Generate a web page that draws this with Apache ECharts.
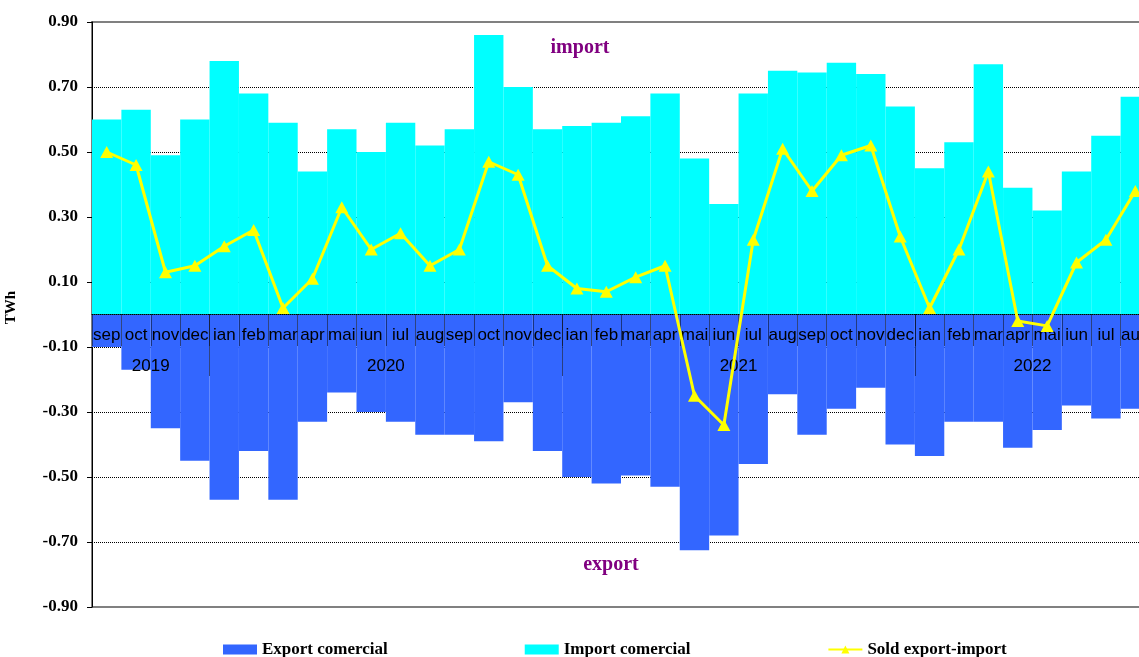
<!DOCTYPE html>
<html>
<head>
<meta charset="utf-8" />
<script src="https://cdn.jsdelivr.net/npm/echarts@6/dist/echarts.min.js"></script>
<style>
  html,
  body {
    margin: 0;
    padding: 0;
    background: #fff;
  }
  #chart {
    width: 1139px;
    height: 657px;
  }
</style>
</head>
<body>
<div id="chart"></div>
<script>
// luni (sep 2019 - aug 2022)
const months = [
  "sep", "oct", "nov", "dec",
  "ian", "feb", "mar", "apr", "mai", "iun", "iul", "aug", "sep", "oct", "nov", "dec",
  "ian", "feb", "mar", "apr", "mai", "iun", "iul", "aug", "sep", "oct", "nov", "dec",
  "ian", "feb", "mar", "apr", "mai", "iun", "iul", "aug",
];
const years = ["2019", "2020", "2021", "2022"];
const yearSpans = [4, 12, 12, 8];

// TWh
const exportData = [
  -0.10, -0.17, -0.35, -0.45,
  -0.57, -0.42, -0.57, -0.33, -0.24, -0.30, -0.33, -0.37, -0.37, -0.39, -0.27, -0.42,
  -0.50, -0.52, -0.495, -0.53, -0.725, -0.68, -0.46, -0.245, -0.37, -0.29, -0.225, -0.40,
  -0.435, -0.33, -0.33, -0.41, -0.355, -0.28, -0.32, -0.29,
];
const importData = [
  0.60, 0.63, 0.49, 0.60,
  0.78, 0.68, 0.59, 0.44, 0.57, 0.50, 0.59, 0.52, 0.57, 0.86, 0.70, 0.57,
  0.58, 0.59, 0.61, 0.68, 0.48, 0.34, 0.68, 0.75, 0.745, 0.775, 0.74, 0.64,
  0.45, 0.53, 0.77, 0.39, 0.32, 0.44, 0.55, 0.67,
];
const soldData = [
  0.50, 0.46, 0.13, 0.15,
  0.21, 0.26, 0.02, 0.11, 0.33, 0.20, 0.25, 0.15, 0.20, 0.47, 0.43, 0.15,
  0.08, 0.07, 0.115, 0.15, -0.25, -0.34, 0.23, 0.51, 0.38, 0.49, 0.52, 0.24,
  0.02, 0.20, 0.44, -0.02, -0.035, 0.16, 0.23, 0.38,
];

const yMin = -0.9;
const yMax = 0.9;

// axa anilor: cate doua pozitii pe luna, eticheta la mijlocul fiecarui an
const yearSlots = new Array(months.length * 2 + 1).fill("");
const yearBounds = [];
let cursor = 0;
years.forEach((y, i) => {
  yearSlots[cursor * 2 + yearSpans[i]] = y;
  cursor += yearSpans[i];
  if (i < years.length - 1) yearBounds.push(cursor * 2);
});

const gridTop = 22;
const gridHeight = 585;
// cu onZero, etichetele raman jos pe grid -> le aducem sub linia de zero
const zeroShift = (gridHeight * (0 - yMin)) / (yMax - yMin);

const serif = "'Liberation Serif', 'Times New Roman', serif";
const sans = "'Liberation Sans', Arial, sans-serif";

let option = {
  animation: false,
  backgroundColor: "#fff",
  grid: {
    left: 92,
    top: gridTop,
    width: 1058,
    height: gridHeight,
    show: true,
    borderColor: "#808080",
    borderWidth: 2,
    outerBoundsMode: "none",
  },
  legend: {
    left: 223,
    top: 641,
    padding: 0,
    itemGap: 137,
    itemWidth: 34,
    itemHeight: 10,
    textStyle: { fontFamily: serif, fontWeight: "bold", fontSize: 17, color: "#000" },
    data: [
      { name: "Export comercial", icon: "rect" },
      { name: "Import comercial", icon: "rect" },
      { name: "Sold export-import" },
    ],
  },
  xAxis: [
    {
      type: "category",
      data: months,
      zlevel: 2,
      axisLine: {
        onZero: true,
        onZeroAxisIndex: 0,
        lineStyle: { color: "#000", type: "dotted", width: 1 },
      },
      axisTick: {
        show: true,
        interval: 0,
        length: 31,
        lineStyle: { color: "#000", type: "dotted", width: 1 },
      },
      axisLabel: {
        interval: 0,
        margin: 12 - zeroShift,
        hideOverlap: false,
        fontFamily: sans,
        fontSize: 17,
        color: "#000",
      },
      splitLine: { show: false },
    },
    {
      type: "category",
      position: "bottom",
      boundaryGap: false,
      data: yearSlots,
      zlevel: 2,
      axisLine: { show: false, onZero: true, onZeroAxisIndex: 0 },
      axisTick: {
        show: true,
        length: 62,
        interval: (index) => yearBounds.includes(index),
        lineStyle: { color: "#000", type: "dotted", width: 1 },
      },
      axisLabel: {
        interval: 0,
        margin: 43 - zeroShift,
        hideOverlap: false,
        fontFamily: sans,
        fontSize: 17,
        color: "#000",
      },
      splitLine: { show: false },
    },
  ],
  yAxis: {
    type: "value",
    min: yMin,
    max: yMax,
    interval: 0.2,
    zlevel: 0,
    name: "TWh",
    nameLocation: "middle",
    nameGap: 73,
    nameTextStyle: {
      fontFamily: serif,
      fontWeight: "bold",
      fontSize: 15,
      color: "#000",
      padding: [0, 0, 0, 14],
    },
    axisLine: { show: true, lineStyle: { color: "#000", width: 1 } },
    axisTick: { show: true, length: 5, lineStyle: { color: "#000" } },
    axisLabel: {
      margin: 14,
      showMinLabel: true,
      showMaxLabel: true,
      fontFamily: serif,
      fontWeight: "bold",
      fontSize: 17,
      color: "#000",
      formatter: (v) => v.toFixed(2),
    },
    splitLine: {
      show: true,
      showMinLine: false,
      showMaxLine: false,
      lineStyle: { color: "#000", type: "dotted", width: 1 },
    },
  },
  graphic: [
    {
      type: "text",
      x: 580,
      y: 48,
      z: 20,
      style: {
        text: "import",
        fill: "#800080",
        font: "bold 20px " + serif,
        textAlign: "center",
        textVerticalAlign: "middle",
      },
    },
    {
      type: "text",
      x: 611,
      y: 565,
      z: 20,
      style: {
        text: "export",
        fill: "#800080",
        font: "bold 20px " + serif,
        textAlign: "center",
        textVerticalAlign: "middle",
      },
    },
  ],
  series: [
    {
      name: "Export comercial",
      type: "bar",
      stack: "total",
      xAxisIndex: 0,
      zlevel: 1,
      barCategoryGap: "0%",
      itemStyle: { color: "#3366FF", opacity: 1, borderWidth: 0 },
      emphasis: { disabled: true },
      data: exportData,
    },
    {
      name: "Import comercial",
      type: "bar",
      stack: "total",
      xAxisIndex: 0,
      zlevel: 1,
      barCategoryGap: "0%",
      itemStyle: { color: "#00FFFF", opacity: 1, borderWidth: 0 },
      emphasis: { disabled: true },
      data: importData,
    },
    {
      name: "Sold export-import",
      type: "line",
      xAxisIndex: 0,
      zlevel: 3,
      symbol: "triangle",
      symbolSize: [13, 12],
      showAllSymbol: true,
      lineStyle: { color: "#FFFF00", width: 3 },
      itemStyle: { color: "#FFFF00" },
      emphasis: { disabled: true },
      data: soldData,
    },
  ],
};

const chart = echarts.init(document.getElementById("chart"));
chart.setOption(option);
</script>
</body>
</html>
